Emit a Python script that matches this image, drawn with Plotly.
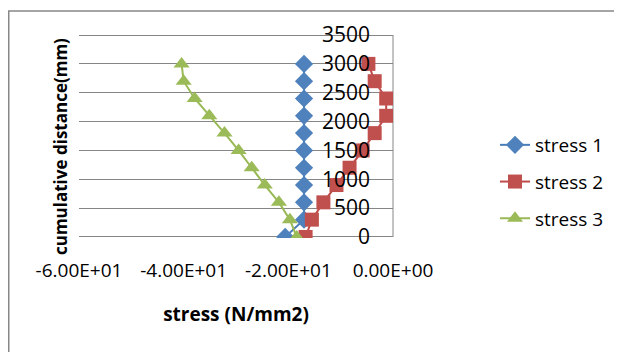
import plotly.graph_objects as go

# ---- data ----
cumulative_distance = [0, 300, 600, 900, 1200, 1500, 1800, 2100, 2400, 2700, 3000]
stress_1 = [-20.6, -17.0, -17.0, -17.0, -17.0, -17.0, -17.0, -17.0, -17.0, -17.0, -17.0]
stress_2 = [-16.7, -15.5, -13.3, -10.8, -8.3, -5.8, -3.5, -1.3, -1.3, -3.5, -4.7]
stress_3 = [-18.4, -19.7, -21.8, -24.5, -27.0, -29.5, -32.2, -35.1, -37.9, -40.0, -40.4]
series_names = ["stress 1", "stress 2", "stress 3"]
x_tick_values = [-60, -40, -20, 0]
x_tick_labels = [f"{v:.2E}" for v in x_tick_values]  # -6.00E+01 ...
y_tick_values = [0, 500, 1000, 1500, 2000, 2500, 3000, 3500]

FONT = "Open Sans"
# page body has an 8px margin, so the figure is 8px smaller and all coordinates shifted
W, H = 614, 344
L, R, T, B = 71, 229, 26, 114
pw = W - L - R
ph = H - T - B

fig = go.Figure()
styles = [
    dict(symbol="diamond", size=14, mcolor="#4F81BD", lcolor="#4A7EBB"),
    dict(symbol="square", size=14, mcolor="#C0504D", lcolor="#BE4B48"),
    dict(symbol="triangle-up", size=14, mcolor="#9BBB59", lcolor="#98B954"),
]
for name, xs, st in zip(series_names, [stress_1, stress_2, stress_3], styles):
    fig.add_trace(go.Scatter(
        x=xs, y=cumulative_distance, name=name, legendgroup=name,
        mode="lines+markers",
        line=dict(color=st["lcolor"], width=2),
        marker=dict(symbol=st["symbol"], size=st["size"], color=st["mcolor"],
                    line=dict(width=0)),
    ))

# outer chart frame
fig.add_shape(type="rect", xref="paper", yref="paper",
              x0=(0.75 - L) / pw, x1=2.0, y0=-1.0, y1=(H - B - 3) / ph,
              line=dict(color="#888888", width=1.5), layer="below")
# vertical axis line at x = 0 (right edge of the plot area)
fig.add_shape(type="line", xref="paper", yref="paper",
              x0=1, x1=1, y0=18 / 3536, y1=1 - 18 / 3536,
              line=dict(color="#868686", width=1), layer="below")

fig.update_layout(
    width=W, height=H,
    margin=dict(l=L, r=R, t=T, b=B, pad=0),
    paper_bgcolor="white", plot_bgcolor="white",
    font=dict(family=FONT, size=19, color="#000000"),
    showlegend=True,
    legend=dict(x=(487 - L) / pw, y=(H - B - 118) / ph, xanchor="left", yanchor="top",
                traceorder="grouped", tracegroupgap=9,
                font=dict(family=FONT, size=19, color="#000000"),
                bgcolor="rgba(0,0,0,0)", borderwidth=0),
    xaxis=dict(range=[-60, 0], tickvals=x_tick_values, ticktext=x_tick_labels,
               showgrid=False, zeroline=False, showline=False,
               ticks="", ticklabelstandoff=19,
               tickfont=dict(family=FONT, size=19, color="#000000"),
               title=dict(text="stress (N/mm2)", standoff=25,
                          font=dict(family=FONT, size=19, weight="bold", color="#000000"))),
    yaxis=dict(range=[-18, 3518], tickvals=y_tick_values, side="left",
               anchor="free", position=(362 - L) / pw,
               showgrid=True, gridcolor="#868686", gridwidth=1,
               zeroline=False, showline=False, ticks="",
               tickfont=dict(family=FONT, size=21, color="#000000"),
               title=dict(text="")),
)

# y axis title on the left (the axis labels sit next to x = 0, as in the reference)
fig.add_annotation(text="cumulative distance(mm)", xref="paper", yref="paper",
                   x=(52 - L) / pw, y=(H - B - 139) / ph, showarrow=False, textangle=-90,
                   xanchor="center", yanchor="middle",
                   font=dict(family=FONT, size=17, weight="bold", color="#000000"))

fig.write_html("out.html")
